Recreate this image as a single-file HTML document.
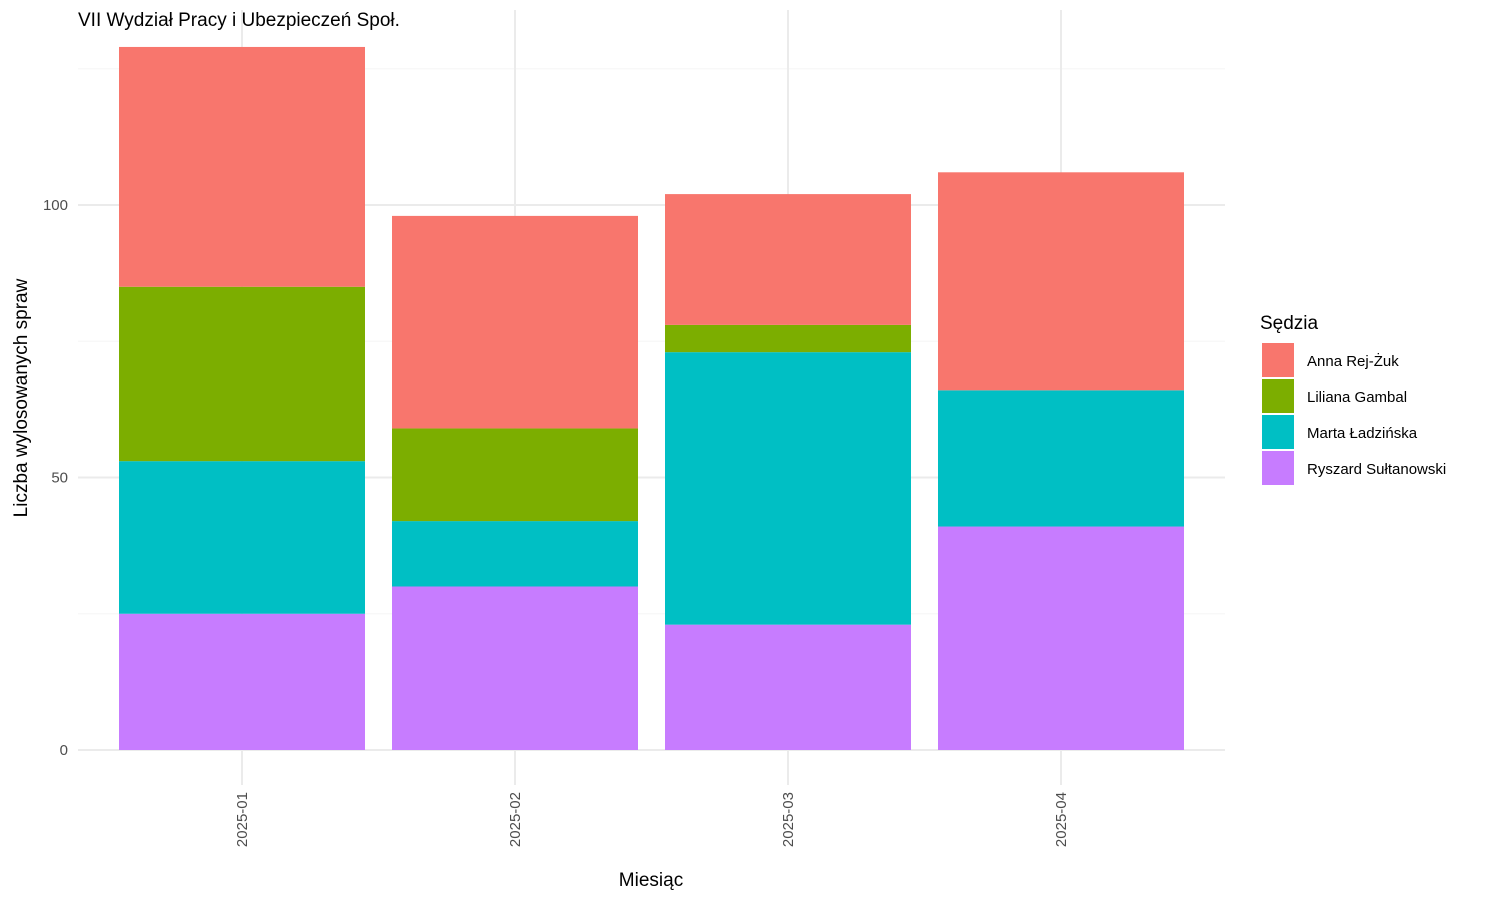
<!DOCTYPE html>
<html><head><meta charset="utf-8"><style>
body{margin:0;background:#fff;font-family:"Liberation Sans",sans-serif}
svg text{font-family:"Liberation Sans",sans-serif}
</style></head><body>
<svg width="1500" height="900" xmlns="http://www.w3.org/2000/svg">
<g id="grid"></g><g id="bars"></g><g id="axes"></g><g id="legend"></g>
<text x="78" y="26" font-size="19" fill="#000">VII Wydział Pracy i Ubezpieczeń Społ.</text>
<text x="651" y="886" font-size="19" text-anchor="middle" fill="#000">Miesiąc</text>
<text transform="translate(27,398) rotate(-90)" font-size="19" text-anchor="middle" fill="#000">Liczba wylosowanych spraw</text>
</svg>
<script>
const categories=["2025-01","2025-02","2025-03","2025-04"];
const seriesNames=["Anna Rej-Żuk","Liliana Gambal","Marta Ładzińska","Ryszard Sułtanowski"];
const anna=[44,39,24,40];
const liliana=[32,17,5,0];
const marta=[28,12,50,25];
const ryszard=[25,30,23,41];
const yTicks=[0,50,100];
const colors=["#F8766D","#7CAE00","#00BFC4","#C77CFF"];
const NS="http://www.w3.org/2000/svg";
const y=v=>750-v*5.45;
const x=i=>242+i*273;
const bw=246;
function mk(tag,attrs,parent){const e=document.createElementNS(NS,tag);for(const k in attrs)e.setAttribute(k,attrs[k]);document.getElementById(parent).appendChild(e);return e;}
yTicks.forEach(t=>{
 const l=mk("line",{x1:78,x2:1225,y1:y(t),y2:y(t),stroke:"#ebebeb","stroke-width":2},"grid");
 
 
 const tx=mk("text",{x:68,y:y(t)+5,"font-size":15,fill:"#4d4d4d","text-anchor":"end"},"axes");
 tx.textContent=t;
 
 
});
[25,75,125].forEach(t=>{
 const l=mk("line",{x1:78,x2:1225,y1:y(t),y2:y(t),stroke:"#f5f5f5","stroke-width":1},"grid");
 
 
});
categories.forEach((c,i)=>{
 const l=mk("line",{x1:x(i),x2:x(i),y1:10,y2:785,stroke:"#ebebeb","stroke-width":2},"grid");
 
 
 const tx=mk("text",{transform:`translate(${x(i)+5},${792}) rotate(-90)`,"font-size":15,fill:"#4d4d4d","text-anchor":"end"},"axes");
 tx.textContent=c;
 
 
 const stack=[ryszard[i],marta[i],liliana[i],anna[i]];
 const cols=[colors[3],colors[2],colors[1],colors[0]];
 let base=0;
 stack.forEach((v,k)=>{
  if(v>0){
   const r=mk("rect",{x:x(i)-bw/2,y:y(base+v),width:bw,height:v*5.45,fill:cols[k]},"bars");
   
   
  }
  base+=v;
 });
});
const lt=mk("text",{x:1260,y:329,"font-size":19,fill:"#000"},"legend");
lt.textContent="Sędzia";


seriesNames.forEach((n,k)=>{
 const r=mk("rect",{x:1262,y:343+k*36,width:32,height:34,fill:colors[k]},"legend");
 
 
 const t=mk("text",{x:1307,y:366+k*36,"font-size":15,fill:"#000"},"legend");
 t.textContent=n;
 
 
});
</script>
</body></html>
